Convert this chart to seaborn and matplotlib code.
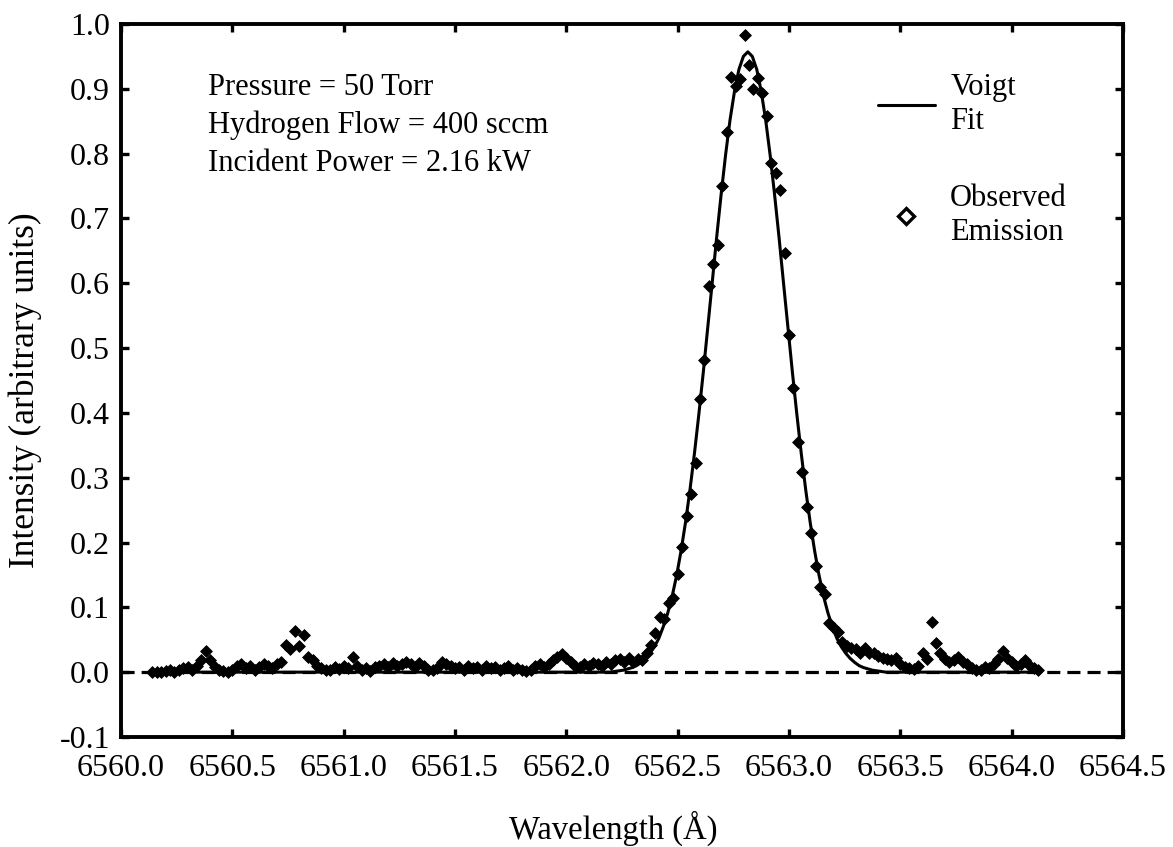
import matplotlib
matplotlib.use("Agg")
import matplotlib.pyplot as plt
from matplotlib.lines import Line2D
import numpy as np
import pandas as pd
import seaborn as sns

# Observed H-alpha emission (wavelength in Angstrom, intensity in arbitrary units)
obs_wavelength = [
    6560.14, 6560.16, 6560.18, 6560.20, 6560.22, 6560.24, 6560.26, 6560.28, 6560.30, 6560.32,
    6560.34, 6560.36, 6560.38, 6560.40, 6560.42, 6560.44, 6560.46, 6560.48, 6560.50, 6560.52,
    6560.54, 6560.56, 6560.58, 6560.60, 6560.62, 6560.64, 6560.66, 6560.68, 6560.70, 6560.72,
    6560.74, 6560.76, 6560.78, 6560.80, 6560.82, 6560.84, 6560.86, 6560.88, 6560.90, 6560.92,
    6560.94, 6560.96, 6560.98, 6561.00, 6561.02, 6561.04, 6561.06, 6561.08, 6561.10, 6561.12,
    6561.14, 6561.16, 6561.18, 6561.20, 6561.22, 6561.24, 6561.26, 6561.28, 6561.30, 6561.32,
    6561.34, 6561.36, 6561.38, 6561.40, 6561.42, 6561.44, 6561.46, 6561.48, 6561.50, 6561.52,
    6561.54, 6561.56, 6561.58, 6561.60, 6561.62, 6561.64, 6561.66, 6561.68, 6561.70, 6561.72,
    6561.74, 6561.76, 6561.78, 6561.80, 6561.82, 6561.84, 6561.86, 6561.88, 6561.90, 6561.92,
    6561.94, 6561.96, 6561.98, 6562.00, 6562.02, 6562.04, 6562.06, 6562.08, 6562.10, 6562.12,
    6562.14, 6562.16, 6562.18, 6562.20, 6562.22, 6562.24, 6562.26, 6562.28, 6562.30, 6562.32,
    6562.34, 6562.36, 6562.38, 6562.40, 6562.42, 6562.44, 6562.46, 6562.48, 6562.50, 6562.52,
    6562.54, 6562.56, 6562.58, 6562.60, 6562.62, 6562.64, 6562.66, 6562.68, 6562.70, 6562.72,
    6562.74, 6562.76, 6562.78, 6562.80, 6562.82, 6562.84, 6562.86, 6562.88, 6562.90, 6562.92,
    6562.94, 6562.96, 6562.98, 6563.00, 6563.02, 6563.04, 6563.06, 6563.08, 6563.10, 6563.12,
    6563.14, 6563.16, 6563.18, 6563.20, 6563.22, 6563.24, 6563.26, 6563.28, 6563.30, 6563.32,
    6563.34, 6563.36, 6563.38, 6563.40, 6563.42, 6563.44, 6563.46, 6563.48, 6563.50, 6563.52,
    6563.54, 6563.56, 6563.58, 6563.60, 6563.62, 6563.64, 6563.66, 6563.68, 6563.70, 6563.72,
    6563.74, 6563.76, 6563.78, 6563.80, 6563.82, 6563.84, 6563.86, 6563.88, 6563.90, 6563.92,
    6563.94, 6563.96, 6563.98, 6564.00, 6564.02, 6564.04, 6564.06, 6564.08, 6564.10, 6564.12,
]
obs_intensity = [
    0.000, 0.001, 0.000, 0.002, 0.004, 0.001, 0.003, 0.006, 0.008, 0.004,
    0.010, 0.018, 0.033, 0.018, 0.008, 0.004, 0.002, 0.001, 0.003, 0.010,
    0.012, 0.006, 0.010, 0.004, 0.008, 0.012, 0.010, 0.006, 0.012, 0.015,
    0.042, 0.035, 0.063, 0.040, 0.058, 0.024, 0.018, 0.010, 0.006, 0.004,
    0.003, 0.008, 0.005, 0.010, 0.006, 0.023, 0.010, 0.004, 0.006, 0.002,
    0.008, 0.010, 0.012, 0.008, 0.014, 0.010, 0.012, 0.015, 0.012, 0.008,
    0.014, 0.010, 0.004, 0.003, 0.006, 0.015, 0.012, 0.010, 0.006, 0.008,
    0.004, 0.010, 0.006, 0.008, 0.004, 0.010, 0.006, 0.008, 0.004, 0.006,
    0.010, 0.004, 0.006, 0.003, 0.002, 0.004, 0.010, 0.012, 0.008, 0.012,
    0.018, 0.024, 0.028, 0.022, 0.015, 0.010, 0.008, 0.012, 0.010, 0.014,
    0.012, 0.010, 0.015, 0.012, 0.018, 0.020, 0.015, 0.022, 0.016, 0.020,
    0.018, 0.030, 0.042, 0.060, 0.085, 0.082, 0.106, 0.114, 0.151, 0.193,
    0.241, 0.275, 0.323, 0.421, 0.481, 0.596, 0.630, 0.659, 0.750, 0.833,
    0.918, 0.904, 0.915, 0.983, 0.937, 0.900, 0.917, 0.894, 0.858, 0.785,
    0.770, 0.744, 0.647, 0.520, 0.438, 0.355, 0.309, 0.255, 0.215, 0.164,
    0.131, 0.120, 0.076, 0.068, 0.062, 0.046, 0.040, 0.037, 0.035, 0.030,
    0.037, 0.030, 0.029, 0.025, 0.022, 0.020, 0.018, 0.022, 0.012, 0.008,
    0.006, 0.005, 0.010, 0.029, 0.020, 0.077, 0.045, 0.030, 0.020, 0.015,
    0.018, 0.023, 0.016, 0.012, 0.006, 0.004, 0.004, 0.008, 0.006, 0.012,
    0.020, 0.032, 0.022, 0.015, 0.010, 0.012, 0.018, 0.010, 0.006, 0.003,
]

# Voigt profile fitted to the line
fit_wavelength = [
    6560.13,
    6562.195, 6562.215, 6562.235, 6562.255, 6562.275, 6562.295, 6562.315, 6562.335,
    6562.355, 6562.375, 6562.395, 6562.415, 6562.435, 6562.455, 6562.475, 6562.495,
    6562.515, 6562.535, 6562.555, 6562.575, 6562.595, 6562.615, 6562.635, 6562.655,
    6562.675, 6562.695, 6562.715, 6562.735, 6562.755, 6562.775, 6562.795, 6562.815,
    6562.835, 6562.855, 6562.875, 6562.895, 6562.915, 6562.935, 6562.955, 6562.975,
    6562.995, 6563.015, 6563.035, 6563.055, 6563.075, 6563.095, 6563.115, 6563.135,
    6563.155, 6563.175, 6563.195, 6563.215, 6563.235, 6563.255, 6563.275, 6563.295,
    6563.315, 6563.335, 6563.355, 6563.375, 6563.395, 6563.415, 6563.435,
    6564.13,
]
fit_intensity = [
    0.000,
    0.000, 0.001, 0.002, 0.003, 0.005, 0.007, 0.010, 0.015,
    0.021, 0.029, 0.039, 0.052, 0.070, 0.091, 0.117, 0.149,
    0.187, 0.231, 0.281, 0.337, 0.398, 0.463, 0.532, 0.601,
    0.671, 0.737, 0.798, 0.852, 0.896, 0.930, 0.950, 0.957,
    0.950, 0.930, 0.896, 0.852, 0.798, 0.737, 0.671, 0.601,
    0.532, 0.463, 0.398, 0.337, 0.281, 0.231, 0.187, 0.149,
    0.117, 0.091, 0.070, 0.052, 0.039, 0.029, 0.021, 0.015,
    0.010, 0.007, 0.005, 0.003, 0.002, 0.001, 0.000,
    0.000,
]

x_ticks = [6560.0, 6560.5, 6561.0, 6561.5, 6562.0, 6562.5, 6563.0, 6563.5, 6564.0, 6564.5]
y_ticks = [-0.1, 0.0, 0.1, 0.2, 0.3, 0.4, 0.5, 0.6, 0.7, 0.8, 0.9, 1.0]

conditions = ["Pressure = 50 Torr",
              "Hydrogen Flow = 400 sccm",
              "Incident Power = 2.16 kW"]

obs = pd.DataFrame({"wavelength": obs_wavelength, "intensity": obs_intensity})
fit = pd.DataFrame({"wavelength": fit_wavelength, "intensity": fit_intensity})

sns.set_theme(style="ticks")
plt.rcParams["font.family"] = ["Liberation Serif", "DejaVu Serif"]
plt.rcParams["axes.unicode_minus"] = False
plt.rcParams["text.color"] = "black"
plt.rcParams["axes.labelcolor"] = "black"

fig = plt.figure(figsize=(11.73, 8.47), dpi=100)
ax = fig.add_axes([0.1032, 0.1299, 0.8542, 0.8418])

# zero reference line
ax.axhline(0.0, color="black", lw=2.3, ls=(0, (4.1, 2.2)), zorder=1)
sns.lineplot(data=fit, x="wavelength", y="intensity", ax=ax, color="black",
             lw=2.2, sort=False, estimator=None, zorder=2)
sns.scatterplot(data=obs, x="wavelength", y="intensity", ax=ax, marker="D",
                s=36, color="black", edgecolor="black", linewidth=0.6, zorder=3)

ax.set_xlim(6560.0, 6564.5)
ax.set_ylim(-0.1, 1.0)
ax.set_xticks(x_ticks)
ax.set_xticklabels([f"{v:.1f}" for v in x_ticks])
ax.set_yticks(y_ticks)
ax.set_yticklabels([f"{v:.1f}" for v in y_ticks])

for side in ["left", "right", "top", "bottom"]:
    ax.spines[side].set_visible(True)
    ax.spines[side].set_linewidth(2.8)
    ax.spines[side].set_color("black")
ax.tick_params(axis="both", which="major", direction="in", length=6, width=2.4,
               top=True, right=True, labelsize=23, colors="black")
ax.tick_params(axis="y", pad=8)
ax.tick_params(axis="x", pad=12)

ax.set_xlabel("Wavelength (Å)", fontsize=23.5)
ax.set_ylabel("Intensity (arbitrary units)", fontsize=25.5)
ax.xaxis.set_label_coords(0.4915, -0.103)
ax.yaxis.set_label_coords(-0.079, 0.487)

# run conditions, one line each
for i, line in enumerate(conditions):
    ax.text(0.0868, 0.9004 - i * 0.0533, line, transform=ax.transAxes,
            fontsize=22, va="baseline", ha="left")

handles = [
    Line2D([], [], color="black", lw=2.2),
    Line2D([], [], color="black", lw=0, marker="D", markersize=8,
           markerfacecolor="white", markeredgecolor="black", markeredgewidth=2.4),
]
ax.legend(handles, ["Voigt\nFit", "Observed\nEmission"], loc="upper left",
          bbox_to_anchor=(0.7555, 0.931), frameon=False, fontsize=22,
          handlelength=1.86, handletextpad=0.5, labelspacing=1.6,
          borderpad=0, borderaxespad=0)

fig.savefig("out.png", dpi=100)
